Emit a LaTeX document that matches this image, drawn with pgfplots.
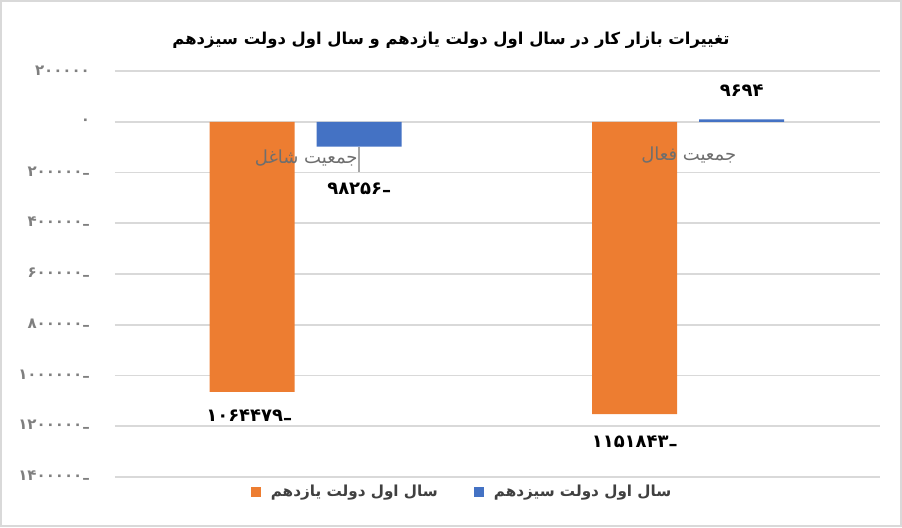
\documentclass[border=0pt]{standalone}
\usepackage{pgfplots}
\pgfplotsset{compat=1.18}
\usepackage{fontspec}
\setmainfont{DejaVu Sans}
\newfontfamily\fa[Script=Arabic]{DejaVu Sans}
\TeXXeTstate=1
\definecolor{orng}{HTML}{ED7D31}
\definecolor{blu}{HTML}{4472C4}
\definecolor{gridgray}{HTML}{D9D9D9}
\definecolor{ticktxt}{HTML}{7F7F7F}
\definecolor{cattxt}{HTML}{6E6E6E}
\definecolor{legtxt}{HTML}{404040}
\newcommand{\negnum}[1]{\hbox{#1}\hbox{\raisebox{-0.3ex}{–}}}
\begin{document}
\begin{tikzpicture}[x=1pt,y=1pt]
\draw[gridgray, line width=1pt] (0.5,0.5) rectangle (450.5,263);
\node[font=\fa\bfseries\fontsize{8.2}{10}\selectfont] at (225.5,243.5) {\beginR تغییرات بازار کار در سال اول دولت یازدهم و سال اول دولت سیزدهم\endR};
\begin{axis}[
  at={(57.5pt,25pt)}, anchor=south west, scale only axis,
  width=382.5pt, height=203pt,
  xmin=-0.5, xmax=1.5, ymin=-1400000, ymax=200000,
  ybar,
  xtick=\empty,
  scaled y ticks=false,
  ytick={-1400000,-1200000,-1000000,-800000,-600000,-400000,-200000,0,200000},
  yticklabels={{\negnum{۱۴۰۰۰۰۰}},{\negnum{۱۲۰۰۰۰۰}},{\negnum{۱۰۰۰۰۰۰}},{\negnum{۸۰۰۰۰۰}},{\negnum{۶۰۰۰۰۰}},{\negnum{۴۰۰۰۰۰}},{\negnum{۲۰۰۰۰۰}},۰,۲۰۰۰۰۰},
  yticklabel style={font=\fa\bfseries\fontsize{7.5}{9}\selectfont, text=ticktxt, anchor=east, xshift=-9pt},
  ymajorgrids, grid style={gridgray, line width=0.8pt},
  major tick length=0pt,
  axis line style={draw=none},
  clip=false,
  legend columns=2,
  legend style={at={(0.455,0)}, anchor=center, yshift=-7.5pt, draw=none, fill=none,
    font=\fa\bfseries\fontsize{7.6}{10}\selectfont, text=legtxt,
    /tikz/every odd column/.append style={column sep=3pt},
    /tikz/every even column/.append style={column sep=16pt}},
  legend image code/.code={\fill[#1] (0pt,-2.5pt) rectangle (5pt,2.5pt);},
]
\addplot[ybar, bar width=42.5pt, bar shift=-27pt, fill=orng, draw=none] coordinates {(0,-1064479) (1,-1151843)};
\addlegendentry{\beginR سال اول دولت یازدهم\endR}
\addplot[ybar, bar width=42.5pt, bar shift=26.5pt, fill=blu, draw=none] coordinates {(0,-98256) (1,9694)};
\addlegendentry{\beginR سال اول دولت سیزدهم\endR}
\draw[gray!70, line width=0.8pt] ([xshift=26.5pt]axis cs:0,-98256) -- ([xshift=26.5pt]axis cs:0,-198000);
\node[font=\fa\fontsize{9}{11}\selectfont, text=cattxt] at ([yshift=-18pt]axis cs:0,0) {\beginR جمعیت شاغل\endR};
\node[font=\fa\fontsize{9}{11}\selectfont, text=cattxt] at ([yshift=-16.5pt]axis cs:1,0) {\beginR جمعیت فعال\endR};
\node[font=\fa\bfseries\fontsize{9}{11}\selectfont] at ([xshift=-28.5pt,yshift=-12.5pt]axis cs:0,-1064479) {\negnum{۱۰۶۴۴۷۹}};
\node[font=\fa\bfseries\fontsize{9}{11}\selectfont] at ([xshift=26.5pt,yshift=-21.5pt]axis cs:0,-98256) {\negnum{۹۸۲۵۶}};
\node[font=\fa\bfseries\fontsize{9}{11}\selectfont] at ([xshift=-27pt,yshift=-14.5pt]axis cs:1,-1151843) {\negnum{۱۱۵۱۸۴۳}};
\node[font=\fa\bfseries\fontsize{9}{11}\selectfont] at ([xshift=26.5pt,yshift=14.5pt]axis cs:1,9694) {۹۶۹۴};
\end{axis}
\end{tikzpicture}
\end{document}
